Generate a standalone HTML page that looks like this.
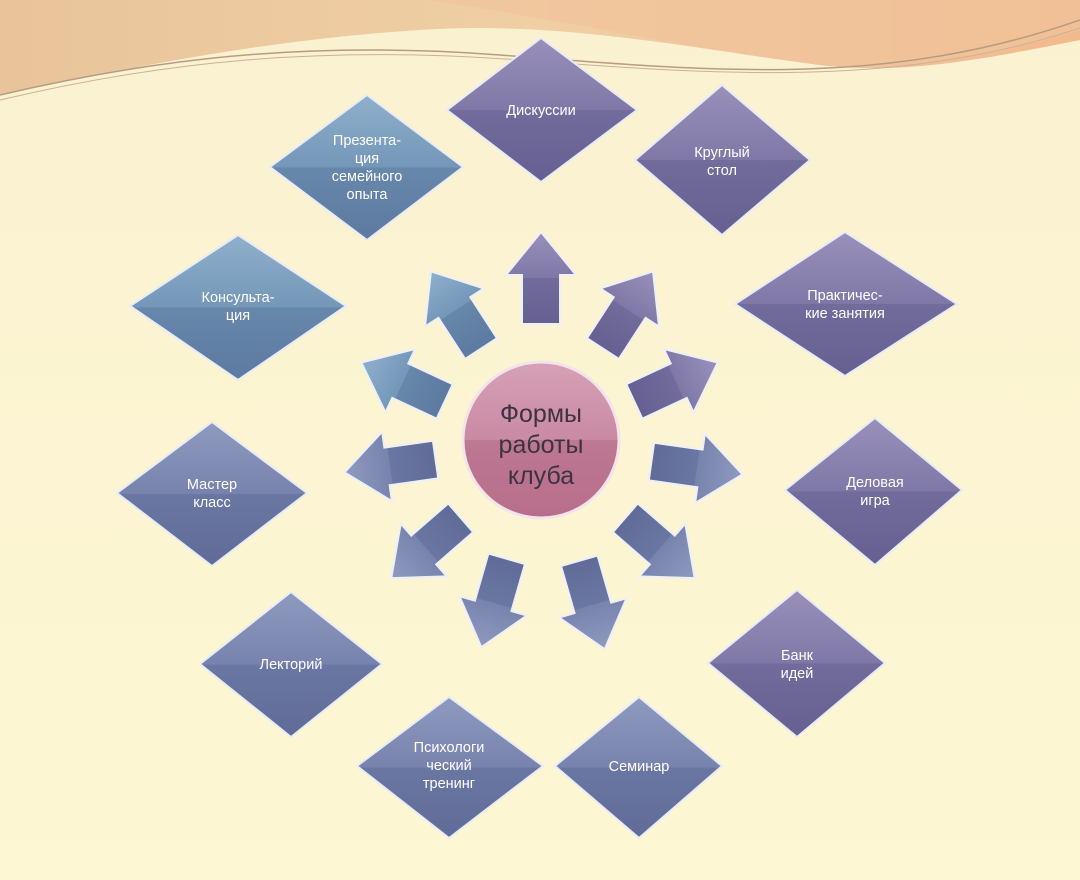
<!DOCTYPE html>
<html><head><meta charset="utf-8"><style>
html,body{margin:0;padding:0;background:#fcf6d3;}
svg{display:block}
text{font-family:"Liberation Sans","DejaVu Sans",sans-serif;fill:#fff;font-size:14.5px;text-anchor:middle}
</style></head><body>
<svg width="1080" height="880" viewBox="0 0 1080 880" xmlns="http://www.w3.org/2000/svg">
<defs>
<linearGradient id="bg" x1="0" y1="0" x2="0" y2="1"><stop offset="0" stop-color="#faf1d0"/><stop offset="1" stop-color="#fdf7d3"/></linearGradient>
<linearGradient id="peach" x1="0" y1="0" x2="1" y2="0"><stop offset="0" stop-color="#e9c49a"/><stop offset="0.5" stop-color="#f0cfa5"/><stop offset="1" stop-color="#f2b98c"/></linearGradient>
<linearGradient id="gb" x1="0" y1="0" x2="0" y2="1"><stop offset="0" stop-color="#8fb0cc"/><stop offset="0.5" stop-color="#7497b8"/><stop offset="0.5" stop-color="#6787ab"/><stop offset="1" stop-color="#5d7aa0"/></linearGradient>
<linearGradient id="gp" x1="0" y1="0" x2="0" y2="1"><stop offset="0" stop-color="#9990bb"/><stop offset="0.5" stop-color="#7f78a6"/><stop offset="0.5" stop-color="#726c9c"/><stop offset="1" stop-color="#666092"/></linearGradient>
<linearGradient id="gm" x1="0" y1="0" x2="0" y2="1"><stop offset="0" stop-color="#8f9ac0"/><stop offset="0.5" stop-color="#7883ad"/><stop offset="0.5" stop-color="#6b77a3"/><stop offset="1" stop-color="#606b98"/></linearGradient>
<linearGradient id="gc" x1="0" y1="0" x2="0" y2="1"><stop offset="0" stop-color="#d6a1b6"/><stop offset="0.5" stop-color="#c98aa3"/><stop offset="0.5" stop-color="#bd7892"/><stop offset="1" stop-color="#b86e8a"/></linearGradient>
<path id="ar" d="M-19,46 L-19,-3 L-35,-3 L0,-46 L35,-3 L19,-3 L19,46 Z"/>
</defs>
<rect width="1080" height="880" fill="url(#bg)"/>
<path d="M0,0 L1080,0 L1080,40 C980,60 900,75 820,65 C700,50 560,20 420,30 C260,40 120,70 0,95 Z" fill="url(#peach)"/>
<path d="M430,0 C560,20 700,50 820,65 C900,75 1000,55 1080,30 L1080,0 Z" fill="#f1c39b" opacity="0.7"/>
<path d="M0,95 C150,60 300,40 500,55 C700,70 880,90 1080,20" stroke="#b79c80" stroke-width="1.5" fill="none"/>
<path d="M0,100 C160,62 320,45 520,60 C720,75 900,88 1080,28" stroke="#c9b292" stroke-width="1" fill="none"/>

<g stroke="#e8ecf5" stroke-width="2">
<polygon points="541,38 637,110 541,182 447,110" fill="url(#gp)"/>
<polygon points="722,85 810,160 722,235 635,160" fill="url(#gp)"/>
<polygon points="845,232 957,304 845,376 735,304" fill="url(#gp)"/>
<polygon points="875,418 962,490 875,565 785,490" fill="url(#gp)"/>
<polygon points="797,590 885,663 797,737 708,663" fill="url(#gp)"/>
<polygon points="639,697 722,766 639,838 555,766" fill="url(#gm)"/>
<polygon points="449,697 543,766 449,838 357,766" fill="url(#gm)"/>
<polygon points="291,592 382,664 291,737 200,664" fill="url(#gm)"/>
<polygon points="212,422 307,493 212,566 117,493" fill="url(#gm)"/>
<polygon points="238,235 346,306 238,380 130,306" fill="url(#gb)"/>
<polygon points="367,95 463,167 367,240 270,167" fill="url(#gb)"/>
</g>
<text x="541" y="115">Дискуссии</text>
<text x="722" y="157">Круглый</text><text x="722" y="175">стол</text>
<text x="845" y="300">Практичес-</text><text x="845" y="318">кие занятия</text>
<text x="875" y="487">Деловая</text><text x="875" y="505">игра</text>
<text x="797" y="660">Банк</text><text x="797" y="678">идей</text>
<text x="639" y="771">Семинар</text>
<text x="449" y="752">Психологи</text><text x="449" y="770">ческий</text><text x="449" y="788">тренинг</text>
<text x="291" y="669">Лекторий</text>
<text x="212" y="489">Мастер</text><text x="212" y="507">класс</text>
<text x="238" y="302">Консульта-</text><text x="238" y="320">ция</text>
<text x="367" y="145">Презента-</text><text x="367" y="163">ция</text><text x="367" y="181">семейного</text><text x="367" y="199">опыта</text>

<g stroke="#eef0f7" stroke-width="2">
<use href="#ar" transform="translate(541,278) rotate(0)" fill="url(#gp)"/>
<use href="#ar" transform="translate(628,310) rotate(33)" fill="url(#gp)"/>
<use href="#ar" transform="translate(676,382) rotate(65)" fill="url(#gp)"/>
<use href="#ar" transform="translate(697,468) rotate(98)" fill="url(#gm)"/>
<use href="#ar" transform="translate(660,548) rotate(131)" fill="url(#gm)"/>
<use href="#ar" transform="translate(592,605) rotate(164)" fill="url(#gm)"/>
<use href="#ar" transform="translate(494,603) rotate(196)" fill="url(#gm)"/>
<use href="#ar" transform="translate(426,548) rotate(229)" fill="url(#gm)"/>
<use href="#ar" transform="translate(390,466) rotate(262)" fill="url(#gm)"/>
<use href="#ar" transform="translate(403,382) rotate(295)" fill="url(#gb)"/>
<use href="#ar" transform="translate(456,310) rotate(327)" fill="url(#gb)"/>
</g>

<circle cx="541" cy="440" r="78" fill="url(#gc)" stroke="#f2e4ea" stroke-width="3"/>
<text x="541" y="422" style="fill:#3d3340;font-size:25px">Формы</text>
<text x="541" y="453" style="fill:#3d3340;font-size:25px">работы</text>
<text x="541" y="484" style="fill:#3d3340;font-size:25px">клуба</text>
</svg>
</body></html>
